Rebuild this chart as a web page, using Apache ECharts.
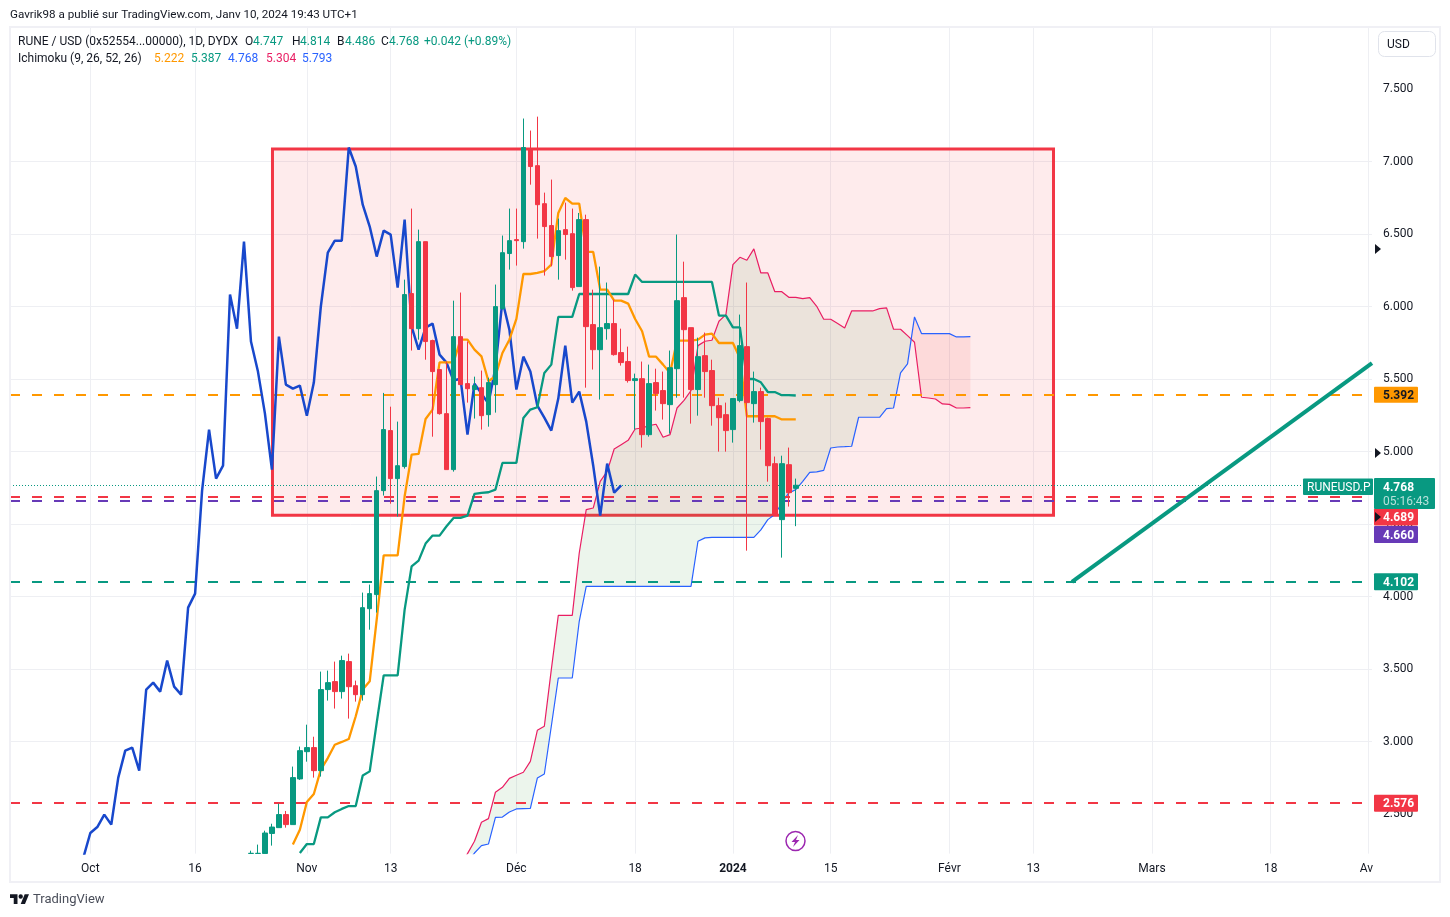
<!DOCTYPE html>
<html><head><meta charset="utf-8">
<style>html,body{margin:0;padding:0;background:#fff}#c{width:1450px;height:917px}</style>
<script src="https://cdn.jsdelivr.net/npm/echarts@6/dist/echarts.min.js"></script>
</head><body><div id="c"></div>
<script>
const FONT = 'Roboto, "Noto Sans", sans-serif';
const UP = '#089981', DOWN = '#f23645';

// candles, first one is 23 days after Oct 1 2023
const candleStart = 23;
const opens = [2.229,2.229,2.229,2.367,2.407,2.497,2.428,2.743,2.931,2.959,2.8,3.359,3.414,3.345,3.552,3.386,3.324,3.917,4.014,4.731,5.145,4.814,4.897,6.09,5.848,6.448,5.766,5.566,5.262,4.876,5.793,5.469,5.428,5.441,5.255,5.462,5.986,6.366,6.462,6.448,7.09,6.972,6.71,6.559,6.352,6.531,6.503,6.138,6.6,5.876,5.703,5.848,5.883,5.683,5.621,5.49,5.503,5.117,5.476,5.421,5.324,5.572,6.062,5.855,5.428,5.662,5.559,5.317,5.255,5.152,5.352,5.724,5.331,5.414,5.228,4.917,4.531,4.91,4.747];
const closes = [2.23,2.23,2.37,2.411,2.497,2.428,2.752,2.938,2.959,2.8,3.359,3.407,3.345,3.559,3.379,3.324,3.924,4.021,4.731,5.152,4.814,4.903,6.083,5.848,6.448,5.759,5.552,5.262,4.876,5.793,5.462,5.434,5.455,5.248,5.476,6.0,6.372,6.455,6.455,7.097,6.966,6.703,6.552,6.345,6.524,6.497,6.131,6.6,5.862,5.703,5.855,5.883,5.669,5.614,5.49,5.503,5.117,5.469,5.4,5.331,5.579,6.041,5.841,5.428,5.655,5.552,5.317,5.234,5.145,5.366,5.731,5.338,5.414,5.207,4.903,4.559,4.917,4.717,4.768];
const highs = [2.248,2.29,2.386,2.434,2.572,2.522,2.828,2.966,3.117,3.034,3.483,3.49,3.552,3.593,3.607,3.421,4.028,4.083,4.828,5.405,5.31,5.207,6.186,6.676,6.531,6.448,5.772,5.566,5.62,6.041,6.097,5.759,5.517,5.559,5.51,6.152,6.49,6.676,6.676,7.297,7.214,7.31,6.786,6.876,6.607,6.717,6.676,6.646,6.634,6.117,6.276,6.166,6.048,5.848,5.724,5.538,5.621,5.6,5.572,5.552,5.697,6.497,6.31,5.855,5.786,5.821,5.634,5.372,5.338,5.366,5.945,6.166,5.552,5.441,5.234,4.966,4.972,5.028,4.814];
const lows = [2.229,2.229,2.229,2.283,2.407,2.407,2.428,2.736,2.862,2.752,2.759,3.283,3.228,3.297,3.159,3.276,3.283,3.772,3.89,4.697,4.641,4.552,4.883,5.697,5.772,5.634,5.103,5.255,4.876,4.862,5.462,5.338,5.228,5.152,5.172,5.269,5.98,6.255,6.283,6.4,6.841,6.469,6.214,6.278,6.186,6.324,6.11,6.138,5.441,5.566,5.359,5.772,5.662,5.593,5.476,5.152,5.028,5.103,5.283,5.221,5.124,5.372,5.372,5.193,5.248,5.372,5.179,5.0,5.0,5.062,5.34,4.317,5.2,5.014,4.793,4.559,4.269,4.621,4.486];

// Ichimoku lines
const tenkanStart = 29;
const tenkan = [2.29,2.393,2.584,2.639,2.807,2.887,2.979,2.998,3.018,3.175,3.359,3.416,3.841,4.285,4.285,4.285,4.692,4.979,4.984,5.225,5.29,5.616,5.616,5.616,5.772,5.772,5.703,5.657,5.485,5.52,5.68,5.772,5.915,6.225,6.225,6.232,6.244,6.29,6.646,6.749,6.71,6.71,6.377,6.377,6.117,6.117,6.041,6.041,6.021,5.915,5.83,5.655,5.655,5.6,5.543,5.766,5.766,5.766,5.772,5.807,5.814,5.749,5.749,5.749,5.646,5.244,5.244,5.244,5.244,5.244,5.222,5.222,5.222];
const kijunStart = 30;
const kijun = [2.232,2.294,2.294,2.478,2.478,2.513,2.536,2.556,2.556,2.766,2.795,3.129,3.457,3.457,3.457,3.91,4.209,4.248,4.366,4.421,4.421,4.485,4.543,4.543,4.559,4.708,4.715,4.72,4.738,4.922,4.922,4.922,5.232,5.29,5.306,5.543,5.6,5.929,5.929,5.929,6.087,6.087,6.087,6.087,6.087,6.087,6.087,6.087,6.221,6.17,6.17,6.17,6.17,6.17,6.17,6.17,6.17,6.17,6.17,6.17,5.938,5.938,5.857,5.857,5.501,5.501,5.478,5.411,5.411,5.389,5.389,5.387];
const chikouStart = -1;
const chikou = [2.2,2.37,2.411,2.497,2.428,2.752,2.938,2.959,2.8,3.359,3.407,3.345,3.559,3.379,3.324,3.924,4.021,4.731,5.152,4.814,4.903,6.083,5.848,6.448,5.759,5.552,5.262,4.876,5.793,5.462,5.434,5.455,5.248,5.476,6.0,6.372,6.455,6.455,7.097,6.966,6.703,6.552,6.345,6.524,6.497,6.131,6.6,5.862,5.703,5.855,5.883,5.669,5.614,5.49,5.503,5.117,5.469,5.4,5.331,5.579,6.041,5.841,5.428,5.655,5.552,5.317,5.234,5.145,5.366,5.731,5.338,5.414,5.207,4.903,4.559,4.917,4.717,4.768];
const senkouAStart = 53;
const senkouA = [2.15,2.228,2.313,2.444,2.469,2.651,2.685,2.747,2.768,2.789,2.864,3.078,3.106,3.497,3.871,3.871,3.871,4.301,4.6,4.611,4.795,4.864,5.018,5.048,5.078,5.156,5.163,5.179,5.189,5.099,5.117,5.301,5.354,5.421,5.731,5.761,5.768,5.899,5.945,6.29,6.34,6.32,6.398,6.232,6.232,6.103,6.103,6.064,6.064,6.055,6.062,6.002,5.913,5.913,5.883,5.853,5.97,5.97,5.97,5.97,5.986,5.991,5.844,5.844,5.8,5.754,5.375,5.37,5.363,5.329,5.326,5.301,5.301,5.304];
const senkouBStart = 54;
const senkouB = [2.17,2.232,2.283,2.294,2.478,2.48,2.515,2.536,2.538,2.54,2.749,2.777,3.106,3.439,3.439,3.439,3.83,4.071,4.071,4.071,4.071,4.071,4.071,4.071,4.071,4.071,4.071,4.071,4.071,4.071,4.071,4.071,4.071,4.382,4.405,4.409,4.409,4.409,4.409,4.409,4.409,4.409,4.46,4.531,4.566,4.646,4.715,4.738,4.795,4.857,4.86,4.871,5.025,5.032,5.034,5.037,5.237,5.237,5.237,5.237,5.297,5.301,5.543,5.605,5.929,5.814,5.814,5.814,5.814,5.814,5.791,5.791,5.793];

// price levels, drawings
const levelOrange = 5.392, levelRed = 4.689, levelPurple = 4.660, levelTeal = 4.102, levelRedLow = 2.576, lastPrice = 4.768;
const boxStartDay = 26.08, boxEndDay = 137.9, boxTop = 7.087, boxBottom = 4.562;
const trendDays = [140.54, 183.5], trendPrices = [4.102, 5.61];

// axis
const priceTicks = [2.5,3,3.5,4,4.5,5,5.5,6,6.5,7,7.5];
const dayTicks = [[0,'Oct'],[15,'16'],[31,'Nov'],[43,'13'],[61,'Déc'],[78,'18'],[92,'2024'],[106,'15'],[123,'Févr'],[135,'13'],[152,'Mars'],[169,'18'],[183,'Avr']];
const firstDay = -11, dayCount = 195;

const dayKey = d => 'd' + d;
const days = [];
for (let i = 0; i < dayCount; i++) days.push(dayKey(firstDay + i));
const tickMap = new Map(dayTicks.map(([d, t]) => [d + (-firstDay), t]));

function along(start, values) {
  const out = new Array(dayCount).fill(null);
  values.forEach((v, k) => { const i = start + k - firstDay; if (i >= 0 && i < dayCount) out[i] = v; });
  return out;
}
const candleData = new Array(dayCount).fill('-');
opens.forEach((o, k) => { candleData[candleStart + k - firstDay] = [o, closes[k], lows[k], highs[k]]; });

const lineA = along(senkouAStart, senkouA), lineB = along(senkouBStart, senkouB);

function cloudRender(params, api) {
  const children = [];
  let upper = [], lower = [], sign = 0;
  const flush = () => {
    if (upper.length > 1) children.push({
      type: 'polygon',
      shape: { points: upper.concat(lower.slice().reverse()) },
      style: { fill: sign > 0 ? 'rgba(67,160,71,0.10)' : 'rgba(244,67,54,0.10)' }
    });
    upper = []; lower = [];
  };
  let prev = null;
  for (let i = 0; i < dayCount; i++) {
    if (lineA[i] == null || lineB[i] == null) continue;
    const pa = api.coord([i, lineA[i]]), pb = api.coord([i, lineB[i]]);
    const s = lineA[i] >= lineB[i] ? 1 : -1;
    if (sign !== 0 && s !== sign && prev) {
      const d0 = prev.a[1] - prev.b[1], d1 = pa[1] - pb[1], t = d0 / (d0 - d1);
      const cross = [prev.a[0] + (pa[0] - prev.a[0]) * t, prev.a[1] + (pa[1] - prev.a[1]) * t];
      upper.push(cross); lower.push(cross);
      flush();
      upper.push(cross); lower.push(cross);
    }
    sign = s;
    upper.push(pa); lower.push(pb);
    prev = { a: pa, b: pb };
  }
  flush();
  return { type: 'group', children };
}

const GRID = '#eeeff3';
const dashed = (y, color) => ({ yAxis: y, lineStyle: { color, type: [10, 12], width: 2 } });
const chart = echarts.init(document.getElementById('c'), null, { renderer: 'canvas' });

chart.setOption({
  animation: false,
  backgroundColor: '#ffffff',
  textStyle: { fontFamily: FONT },
  grid: { left: 10, top: 26.6, width: 1362, height: 827, containLabel: false },
  xAxis: [{
    type: 'category', data: days, boundaryGap: true,
    axisLine: { show: false }, axisTick: { show: false },
    axisLabel: {
      interval: i => tickMap.has(i), margin: 9, color: '#131722', fontSize: 12, fontFamily: FONT,
      formatter: (v, i) => { const t = tickMap.get(i); return t === '2024' ? '{b|2024}' : (t || ''); },
      rich: { b: { fontWeight: 'bold', fontSize: 12, color: '#131722', fontFamily: FONT } }
    },
    splitLine: { show: true, interval: i => tickMap.has(i), alignWithLabel: true, lineStyle: { color: GRID, width: 1 } }
  }, {
    type: 'value', show: false, min: firstDay - 0.5, max: firstDay + dayCount - 0.5, splitLine: { show: false }
  }],
  yAxis: {
    type: 'value', position: 'right', min: 2.228, max: 7.931,
    axisLine: { show: false },
    axisTick: { show: false, customValues: priceTicks },
    axisLabel: { margin: 11, color: '#131722', fontSize: 12, fontFamily: FONT, padding: [5, 0, 0, 0], customValues: priceTicks, formatter: v => v.toFixed(3) },
    splitLine: { show: true, customValues: priceTicks, showMinLine: false, showMaxLine: false, lineStyle: { color: GRID, width: 1 } }
  },
  series: [
    {
      name: 'Box', type: 'line', xAxisIndex: 1, data: [], z: 1, silent: true,
      markArea: {
        silent: true, z: 1,
        itemStyle: { color: 'rgba(242,54,69,0.10)', borderColor: '#f23645', borderWidth: 3 },
        data: [[{ xAxis: boxStartDay, yAxis: boxTop }, { xAxis: boxEndDay, yAxis: boxBottom }]]
      }
    },
    { name: 'Cloud', type: 'custom', data: [[0, 0]], renderItem: cloudRender, clip: true, silent: true, z: 2 },
    {
      name: 'Levels', type: 'line', data: [], z: 3, silent: true,
      markLine: {
        silent: true, symbol: 'none', label: { show: false }, animation: false,
        data: [
          dashed(levelOrange, '#ff9800'), dashed(levelRed, DOWN), dashed(levelPurple, '#673ab7'),
          dashed(levelTeal, UP), dashed(levelRedLow, DOWN),
          { yAxis: lastPrice, lineStyle: { color: '#089981', type: [1, 2], width: 1.2 } }
        ]
      }
    },
    { name: 'Senkou A', type: 'line', data: lineA, showSymbol: false, lineStyle: { color: '#e91e63', width: 1.2 }, z: 4, silent: true },
    { name: 'Senkou B', type: 'line', data: lineB, showSymbol: false, lineStyle: { color: '#2962ff', width: 1.2 }, z: 4, silent: true },
    { name: 'Chikou', type: 'line', data: along(chikouStart, chikou), showSymbol: false, lineStyle: { color: '#1848cc', width: 2.5 }, z: 5, silent: true },
    { name: 'Kijun', type: 'line', data: along(kijunStart, kijun), showSymbol: false, lineStyle: { color: UP, width: 2.3 }, z: 5, silent: true },
    { name: 'Tenkan', type: 'line', data: along(tenkanStart, tenkan), showSymbol: false, lineStyle: { color: '#ff9800', width: 2.3 }, z: 5, silent: true },
    {
      name: 'RUNE / USD', type: 'candlestick', data: candleData, barWidth: 5, z: 8, silent: true,
      itemStyle: { color: UP, color0: DOWN, borderColor: UP, borderColor0: DOWN, borderWidth: 1 }
    },
    {
      name: 'Trend', type: 'line', xAxisIndex: 1, z: 9, silent: true, showSymbol: false,
      data: trendDays.map((d, i) => [d, trendPrices[i]]),
      lineStyle: { color: UP, width: 4 }
    }
  ]
});

// chrome: frame, header, legend, price tags
const yPx = v => chart.convertToPixel({ yAxisIndex: 0 }, v);
const txt = (x, y, text, fill, extra) => ({ type: 'text', z: 50, x, y, silent: true,
  style: Object.assign({ text, fill, font: '12px ' + FONT, textVerticalAlign: 'middle' }, extra || {}) });
const tag = (y, h, w, color, text, fg) => [
  { type: 'rect', z: 40, silent: true, shape: { x: 1374, y: y - h / 2, width: w, height: h, r: 1 }, style: { fill: color } },
  txt(1383, y + 1, text, fg || '#ffffff', { font: 'bold 12px ' + FONT })
];
const marker = y => ({ type: 'polygon', z: 45, silent: true, shape: { points: [[1375, y - 5], [1381, y], [1375, y + 5]] }, style: { fill: '#131722' } });
const logoPoly = pts => ({ type: 'polygon', z: 50, silent: true,
  shape: { points: pts.map(([x, y]) => [10 + x * 0.535, 892 + y * 0.55]) }, style: { fill: '#131722' } });
const INK = '#131722', TEAL = '#089981';
const legendRows = [
  [18, 42, 'RUNE / USD (0x52554...00000), 1D, DYDX', INK], [245, 42, 'O', INK], [253, 42, '4.747', TEAL],
  [292, 42, 'H', INK], [300, 42, '4.814', TEAL], [337, 42, 'B', INK], [345, 42, '4.486', TEAL],
  [381, 42, 'C', INK], [389, 42, '4.768', TEAL], [424, 42, '+0.042 (+0.89%)', TEAL],
  [18, 59, 'Ichimoku (9, 26, 52, 26)', INK], [154, 59, '5.222', '#ff9800'], [191, 59, '5.387', TEAL],
  [228, 59, '4.768', '#2962ff'], [266, 59, '5.304', '#e91e63'], [302, 59, '5.793', '#2962ff']
];
const graphics = [
  { type: 'rect', z: 30, silent: true, shape: { x: 10, y: 27, width: 1430, height: 855 }, style: { fill: 'none', stroke: '#f0f0f5', lineWidth: 2 } },
  { type: 'rect', z: 35, silent: true, shape: { x: 1374, y: 858, width: 24, height: 20 }, style: { fill: '#ffffff' } },
  txt(10, 15, 'Gavrik98 a publié sur TradingView.com, Janv 10, 2024 19:43 UTC+1', INK, { font: '11.65px ' + FONT }),
  ...legendRows.map(([x, y, t, col]) => txt(x, y, t, col)),
  { type: 'rect', z: 40, silent: true, shape: { x: 1378.5, y: 31.5, width: 57, height: 25, r: 6 }, style: { fill: '#ffffff', stroke: '#e0e3eb', lineWidth: 1 } },
  txt(1387, 45, 'USD', INK),
  marker(249), marker(453), marker(517),
  ...tag(yPx(levelOrange), 16, 44, '#ff9800', '5.392', INK),
  { type: 'rect', z: 41, silent: true, shape: { x: 1303, y: 478.5, width: 70, height: 16.5, r: 1 }, style: { fill: UP } },
  txt(1307, 488, 'RUNEUSD.P', '#ffffff', { font: '12px ' + FONT }),
  { type: 'rect', z: 41, silent: true, shape: { x: 1374, y: 478, width: 61, height: 31, r: 1 }, style: { fill: UP } },
  txt(1383, 488, '4.768', '#ffffff', { font: 'bold 12px ' + FONT }),
  txt(1383, 502, '05:16:43', 'rgba(255,255,255,0.7)', { font: '12px ' + FONT }),
  ...tag(517, 17, 44, DOWN, '4.689'),
  ...tag(534.5, 17, 44, '#673ab7', '4.660'),
  ...tag(yPx(levelTeal), 17, 44, UP, '4.102'),
  ...tag(yPx(levelRedLow), 17, 44, DOWN, '2.576'),
  { type: 'circle', z: 45, silent: true, shape: { cx: 795.5, cy: 841, r: 9.5 }, style: { fill: '#ffffff', stroke: '#9c27b0', lineWidth: 1.5 } },
  { type: 'polygon', z: 46, silent: true, shape: { points: [[798, 835], [791.5, 842], [795, 842], [793, 847], [799.5, 840], [796, 840]] }, style: { fill: '#9c27b0' } },
  logoPoly([[0, 4], [14, 4], [14, 22], [7, 22], [7, 11], [0, 11]]),
  logoPoly([[27.5, 4], [35.5, 4], [28, 22], [20, 22]]),
  { type: 'circle', z: 50, silent: true, shape: { cx: 20.7, cy: 896.5, r: 2.2 }, style: { fill: '#131722' } },
  txt(33, 900, 'TradingView', '#4a4e5a', { font: '13px ' + FONT })
];
chart.setOption({ graphic: graphics });
</script></body></html>
